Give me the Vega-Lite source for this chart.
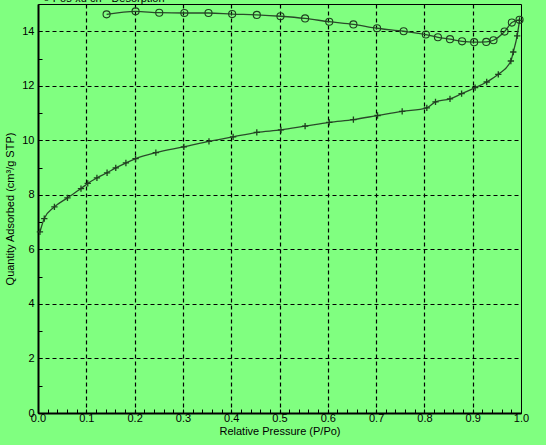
{
  "$schema": "https://vega.github.io/schema/vega-lite/v6.json",
  "autosize": "none",
  "width": 483,
  "height": 409,
  "padding": {"left": 38, "top": 4, "right": 25, "bottom": 32},
  "background": "#80ff80",
  "config": {
    "view": {"stroke": "#000000", "strokeWidth": 1, "fill": "#80ff80"},
    "font": "Liberation Sans",
    "axis": {"labelFont": "Liberation Sans", "titleFont": "Liberation Sans", "labelColor": "#000000", "titleColor": "#000000", "labelFontSize": 11, "titleFontSize": 11, "titleFontWeight": "normal"}
  },
  "title": {"text": "○  Pos-xu ch - Desorption", "anchor": "start", "frame": "group", "offset": -9, "baseline": "alphabetic", "dx": 5, "fontSize": 11, "fontWeight": "normal", "font": "Liberation Sans", "color": "#000000"},
  "data": {"values": [
    {"p": 0.004, "q": 6.64, "s": "Adsorption"},
    {"p": 0.013, "q": 7.13, "s": "Adsorption"},
    {"p": 0.034, "q": 7.56, "s": "Adsorption"},
    {"p": 0.061, "q": 7.89, "s": "Adsorption"},
    {"p": 0.089, "q": 8.23, "s": "Adsorption"},
    {"p": 0.103, "q": 8.42, "s": "Adsorption"},
    {"p": 0.122, "q": 8.62, "s": "Adsorption"},
    {"p": 0.143, "q": 8.81, "s": "Adsorption"},
    {"p": 0.161, "q": 8.99, "s": "Adsorption"},
    {"p": 0.182, "q": 9.17, "s": "Adsorption"},
    {"p": 0.202, "q": 9.33, "s": "Adsorption"},
    {"p": 0.244, "q": 9.55, "s": "Adsorption"},
    {"p": 0.302, "q": 9.76, "s": "Adsorption"},
    {"p": 0.354, "q": 9.96, "s": "Adsorption"},
    {"p": 0.404, "q": 10.13, "s": "Adsorption"},
    {"p": 0.453, "q": 10.29, "s": "Adsorption"},
    {"p": 0.503, "q": 10.38, "s": "Adsorption"},
    {"p": 0.553, "q": 10.52, "s": "Adsorption"},
    {"p": 0.603, "q": 10.66, "s": "Adsorption"},
    {"p": 0.653, "q": 10.76, "s": "Adsorption"},
    {"p": 0.703, "q": 10.91, "s": "Adsorption"},
    {"p": 0.754, "q": 11.06, "s": "Adsorption"},
    {"p": 0.805, "q": 11.19, "s": "Adsorption"},
    {"p": 0.823, "q": 11.41, "s": "Adsorption"},
    {"p": 0.853, "q": 11.52, "s": "Adsorption"},
    {"p": 0.877, "q": 11.71, "s": "Adsorption"},
    {"p": 0.905, "q": 11.93, "s": "Adsorption"},
    {"p": 0.929, "q": 12.14, "s": "Adsorption"},
    {"p": 0.953, "q": 12.42, "s": "Adsorption"},
    {"p": 0.979, "q": 12.91, "s": "Adsorption"},
    {"p": 0.984, "q": 13.24, "s": "Adsorption"},
    {"p": 0.992, "q": 13.83, "s": "Adsorption"},
    {"p": 0.997, "q": 14.4, "s": "Adsorption"},
    {"p": 0.997, "q": 14.42, "s": "Desorption"},
    {"p": 0.981, "q": 14.32, "s": "Desorption"},
    {"p": 0.966, "q": 13.99, "s": "Desorption"},
    {"p": 0.943, "q": 13.67, "s": "Desorption"},
    {"p": 0.928, "q": 13.61, "s": "Desorption"},
    {"p": 0.903, "q": 13.6, "s": "Desorption"},
    {"p": 0.878, "q": 13.63, "s": "Desorption"},
    {"p": 0.853, "q": 13.71, "s": "Desorption"},
    {"p": 0.828, "q": 13.78, "s": "Desorption"},
    {"p": 0.803, "q": 13.88, "s": "Desorption"},
    {"p": 0.757, "q": 14.0, "s": "Desorption"},
    {"p": 0.702, "q": 14.11, "s": "Desorption"},
    {"p": 0.653, "q": 14.25, "s": "Desorption"},
    {"p": 0.603, "q": 14.35, "s": "Desorption"},
    {"p": 0.553, "q": 14.47, "s": "Desorption"},
    {"p": 0.502, "q": 14.55, "s": "Desorption"},
    {"p": 0.453, "q": 14.6, "s": "Desorption"},
    {"p": 0.402, "q": 14.63, "s": "Desorption"},
    {"p": 0.353, "q": 14.67, "s": "Desorption"},
    {"p": 0.303, "q": 14.67, "s": "Desorption"},
    {"p": 0.251, "q": 14.68, "s": "Desorption"},
    {"p": 0.202, "q": 14.73, "s": "Desorption"},
    {"p": 0.142, "q": 14.62, "s": "Desorption"}
  ]},
  "encoding": {
    "x": {
      "field": "p", "type": "quantitative",
      "scale": {"domain": [0, 1], "nice": false, "zero": false},
      "axis": {
        "title": "Relative Pressure (P/Po)",
        "titlePadding": 2,
        "values": [0,0.02,0.04,0.06,0.08,0.1,0.12,0.14,0.16,0.18,0.2,0.22,0.24,0.26,0.28,0.3,0.32,0.34,0.36,0.38,0.4,0.42,0.44,0.46,0.48,0.5,0.52,0.54,0.56,0.58,0.6,0.62,0.64,0.66,0.68,0.7,0.72,0.74,0.76,0.78,0.8,0.82,0.84,0.86,0.88,0.9,0.92,0.94,0.96,0.98,1],
        "labelExpr": "abs(round(datum.value*10) - datum.value*10) < 0.001 ? format(datum.value, '.1f') : ''",
        "labelFlush": false,
        "labelOverlap": false,
        "labelPadding": 3,
        "domainColor": "#000000",
        "domainWidth": 2,
        "tickColor": "#000000",
        "tickSize": -4,
        "grid": true,
        "gridColor": "#000000",
        "gridDash": [4, 3],
        "gridWidth": 1.2,
        "gridOpacity": {"condition": {"test": "abs(round(datum.value*10) - datum.value*10) < 0.001 && datum.value > 0.05 && datum.value < 0.95", "value": 1}, "value": 0}
      }
    },
    "y": {
      "field": "q", "type": "quantitative",
      "scale": {"domain": [0, 15], "nice": false, "zero": true},
      "axis": {
        "title": "Quantity Adsorbed (cm³/g STP)",
        "titlePadding": 6,
        "values": [0,1,2,3,4,5,6,7,8,9,10,11,12,13,14],
        "labelExpr": "datum.value % 2 == 0 ? datum.label : ''",
        "labelOverlap": false,
        "labelFlush": false,
        "labelPadding": 8,
        "domainColor": "#000000",
        "domainWidth": 2,
        "tickColor": "#000000",
        "tickSize": -4,
        "grid": true,
        "gridColor": "#000000",
        "gridDash": [4, 3],
        "gridWidth": 1.2,
        "gridOpacity": {"condition": {"test": "datum.value % 2 == 0 && datum.value > 0", "value": 1}, "value": 0}
      }
    }
  },
  "layer": [
    {
      "mark": {"type": "line", "interpolate": "monotone", "color": "#2a4a2a", "strokeWidth": 1.3},
      "encoding": {"detail": {"field": "s"}, "order": {"field": "p"}}
    },
    {
      "transform": [{"filter": "datum.s == 'Adsorption'"}],
      "mark": {"type": "point", "shape": "M-1,0H1M0,-1V1", "filled": false, "size": 40, "stroke": "#1f3f1f", "strokeWidth": 1.3, "opacity": 1}
    },
    {
      "transform": [{"filter": "datum.s == 'Desorption'"}],
      "mark": {"type": "point", "shape": "circle", "filled": false, "size": 50, "stroke": "#1f3f1f", "strokeWidth": 1.1, "opacity": 1}
    }
  ]
}
